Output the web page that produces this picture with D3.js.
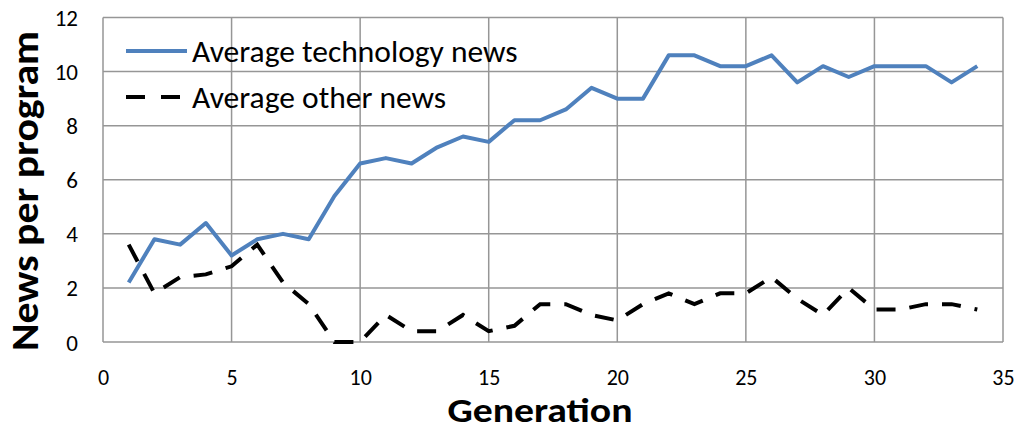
<!DOCTYPE html>
<html><head><meta charset="utf-8">
<script src="https://cdn.jsdelivr.net/npm/d3@7"></script>
<style>body{margin:0;background:#fff}</style>
</head><body>
<svg id="c" width="1019" height="432"></svg>
<script>
const generations = d3.range(1, 35);
const techNews = [2.2,3.8,3.6,4.4,3.2,3.8,4.0,3.8,5.4,6.6,6.8,6.6,7.2,7.6,7.4,8.2,8.2,8.6,9.4,9.0,9.0,10.6,10.6,10.2,10.2,10.6,9.6,10.2,9.8,10.2,10.2,10.2,9.6,10.2];
const otherNews = [3.6,1.8,2.4,2.5,2.8,3.6,2.2,1.4,0,0,1.0,0.4,0.4,1.0,0.4,0.6,1.4,1.4,1.0,0.8,1.4,1.8,1.4,1.8,1.8,2.4,1.6,1.0,2.0,1.2,1.2,1.4,1.4,1.2];
const xTicks = [0,5,10,15,20,25,30,35];
const yTicks = [0,2,4,6,8,10,12];
const seriesNames = ["Average technology news","Average other news"];

const svg = d3.select("#c");
const L=103, R=1003, T=17.5, B=342;
const x = d3.scaleLinear().domain([0,35]).range([L,R]);
const y = d3.scaleLinear().domain([0,12]).range([B,T]);
const font = "Carlito, 'Open Sans', sans-serif";

const g = svg.append("g");
g.selectAll(".gx").data(xTicks).join("line")
  .attr("x1",d=>x(d)).attr("x2",d=>x(d)).attr("y1",T).attr("y2",B)
  .attr("stroke","#969696").attr("stroke-width",1.5);
g.selectAll(".gy").data(yTicks).join("line")
  .attr("x1",L).attr("x2",R).attr("y1",d=>y(d)).attr("y2",d=>y(d))
  .attr("stroke","#969696").attr("stroke-width",1.5);

const xAxis = d3.axisBottom(x).tickValues(xTicks).tickSize(0).tickPadding(0);
const xa = svg.append("g").attr("transform",`translate(0,${B})`).call(xAxis);
xa.select(".domain").remove();
xa.selectAll("text").attr("dy",null).attr("y",43).attr("font-family",font).attr("font-size",22).attr("fill","#000");
const yAxis = d3.axisLeft(y).tickValues(yTicks).tickSize(0).tickPadding(0);
const ya = svg.append("g").attr("transform",`translate(78,0)`).call(yAxis);
ya.select(".domain").remove();
ya.selectAll("text").attr("dy","0.35em").attr("x",0).attr("font-family",font).attr("font-size",23).attr("fill","#000");

const line = d3.line().x((d,i)=>x(generations[i])).y(d=>y(d));
svg.append("path").datum(techNews).attr("d",line).attr("fill","none")
  .attr("stroke","#4F81BD").attr("stroke-width",4).attr("stroke-linejoin","round");
svg.append("path").datum(otherNews).attr("d",line).attr("fill","none")
  .attr("stroke","#000").attr("stroke-width",4).attr("stroke-dasharray","19,14");

const leg = svg.append("g");
leg.append("line").attr("x1",126).attr("x2",187).attr("y1",51).attr("y2",51)
  .attr("stroke","#4F81BD").attr("stroke-width",4);
leg.append("line").attr("x1",126).attr("x2",187).attr("y1",97).attr("y2",97)
  .attr("stroke","#000").attr("stroke-width",4).attr("stroke-dasharray","19,16");
leg.selectAll("text").data(seriesNames).join("text")
  .attr("x",192).attr("y",(d,i)=>62+i*45.5)
  .attr("font-family",font).attr("font-size",31.5).attr("fill","#000").text(d=>d);

svg.append("text").attr("x",540).attr("y",422).attr("text-anchor","middle")
  .attr("font-family",font).attr("font-weight","bold").attr("font-size",34)
  .attr("textLength",185).attr("lengthAdjust","spacingAndGlyphs").text("Generation");
svg.append("text").attr("transform","translate(38,191) rotate(-90)").attr("text-anchor","middle")
  .attr("font-family",font).attr("font-weight","bold").attr("font-size",38)
  .attr("textLength",320).attr("lengthAdjust","spacingAndGlyphs").text("News per program");
</script>
</body></html>
